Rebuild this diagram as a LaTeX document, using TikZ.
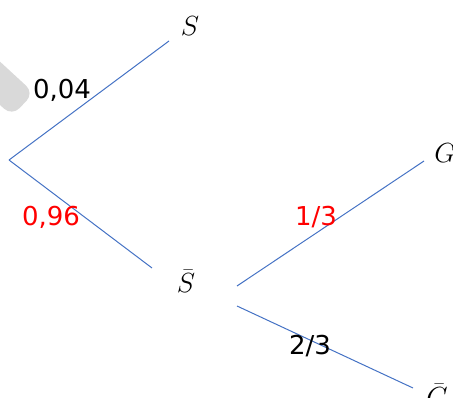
\documentclass[tikz,border=0pt]{standalone}
\usepackage{fontspec}
\setsansfont{DejaVu Sans}
\begin{document}
\begin{tikzpicture}[x=0.75pt, y=-0.75pt, font=\fontsize{19.5}{23}\selectfont,
  branch/.style={draw={rgb,255:red,68;green,114;blue,196}, line width=0.75pt},
  prob/.style={font=\fontsize{19.5}{23}\selectfont\sffamily, inner sep=0pt}]
\useasboundingbox (0,0) rectangle (453,398);
\clip (0,0) rectangle (453,398);
% grey tab at the left edge
\fill[black!15, rounded corners=8] (-30,34) -- (34,93) -- (12,116) -- (-52,57) -- cycle;
% first stage
\coordinate (root) at (9,160);
\coordinate (sEnd) at (169,41);
\coordinate (sbarEnd) at (152,268);
\node[inner sep=0pt] (S) at (190,26) {$S$};
\node[inner sep=0pt] (Sbar) at (186,281) {$\bar{S}$};
\draw[branch] (root) -- (sEnd);
\draw[branch] (root) -- (sbarEnd);
\node[prob] (pS) at (62,90) {0,04};
\node[prob, red] (pSbar) at (51,217) {0,96};
% second stage, from S bar
\coordinate (gStart) at (237,286);
\coordinate (gEnd) at (424,161);
\coordinate (gbarStart) at (237,306);
\coordinate (gbarEnd) at (413,388);
\node[inner sep=0pt] (G) at (445,153) {$G$};
\node[inner sep=0pt] (Gbar) at (437,395) {$\bar{G}$};
\draw[branch] (gStart) -- (gEnd);
\draw[branch] (gbarStart) -- (gbarEnd);
\node[prob, red] (pG) at (316,217) {1/3};
\node[prob] (pGbar) at (310,346) {2/3};
\end{tikzpicture}
\end{document}
